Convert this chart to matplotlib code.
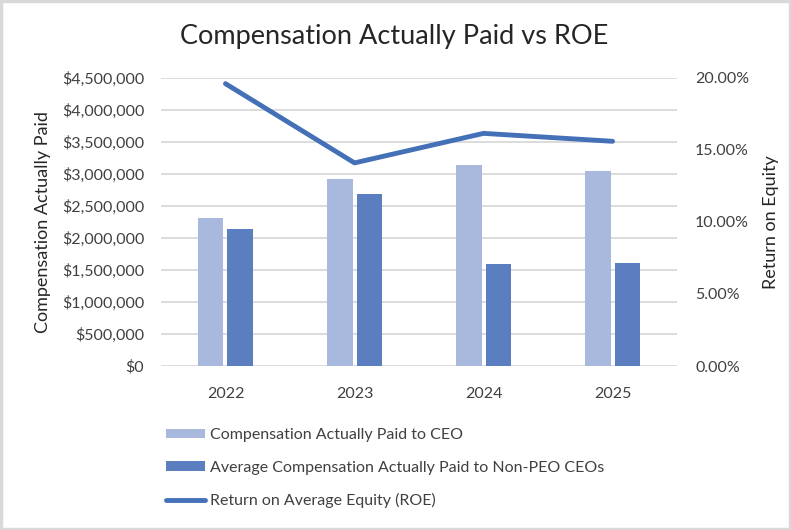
import matplotlib
matplotlib.use("Agg")
import matplotlib.pyplot as plt
from matplotlib.patches import Rectangle
from matplotlib.ticker import FuncFormatter
import numpy as np

plt.rcParams['font.family'] = ['Lato', 'DejaVu Sans']

# data
years = ['2022', '2023', '2024', '2025']
ceo_cap = [2310000, 2920000, 3135000, 3050000]
non_peo_cap = [2135000, 2680000, 1595000, 1610000]
roe = [19.6, 14.1, 16.15, 15.6]

labels = ['Compensation Actually Paid to CEO',
          'Average Compensation Actually Paid to Non-PEO CEOs',
          'Return on Average Equity (ROE)']

c_light = '#A9B8DD'
c_dark = '#5A7EC0'
c_line = '#4470B8'
txt = '#404040'

fig = plt.figure(figsize=(7.91, 5.30), dpi=100)
fig.patches.append(Rectangle((0.0015, 0.002), 0.997, 0.996, transform=fig.transFigure,
                             fill=False, edgecolor='#D9D9D9', linewidth=2.5))

ax = fig.add_axes([0.2035, 0.3094, 0.856 - 0.2035, 0.853 - 0.3094])
x = np.arange(len(years))
w = 0.195
b1 = ax.bar(x - 0.113, ceo_cap, w, color=c_light, label=labels[0], zorder=2)
b2 = ax.bar(x + 0.113, non_peo_cap, w, color=c_dark, label=labels[1], zorder=2)
ax.set_ylim(0, 4500000)
ax.set_xlim(-0.5, 3.5)
ax.set_yticks(np.arange(0, 4500001, 500000))
ax.yaxis.set_major_formatter(FuncFormatter(lambda v, p: '${:,.0f}'.format(v)))
ax.set_xticks(x)
ax.set_xticklabels(years)
ax.grid(axis='y', color='#D9D9D9', linewidth=1.3, zorder=0)
ax.set_axisbelow(True)
for s in ax.spines.values():
    s.set_visible(False)
ax.tick_params(length=0, labelsize=11.5, colors=txt, pad=12)
ax.tick_params(axis='x', pad=15)
ax.set_ylabel('Compensation Actually Paid', fontsize=13, color='#262626', labelpad=8)

ax2 = ax.twinx()
ln, = ax2.plot(x, roe, color=c_line, linewidth=3.5, label=labels[2],
               solid_capstyle='round', zorder=3)
ax2.set_ylim(0, 20)
ax2.set_yticks([0, 5, 10, 15, 20])
ax2.yaxis.set_major_formatter(FuncFormatter(lambda v, p: '{:.2f}%'.format(v)))
for s in ax2.spines.values():
    s.set_visible(False)
ax2.tick_params(length=0, labelsize=11.5, colors=txt, pad=13)
ax2.set_ylabel('Return on Equity', fontsize=13, color='#262626', labelpad=10)

fig.suptitle('Compensation Actually Paid vs ROE', fontsize=19.5, color='#262626',
             x=0.498, y=0.955)

fig.legend(handles=[b1, b2, ln], labels=labels, loc='upper left',
           bbox_to_anchor=(0.2023, 0.204), frameon=False, fontsize=11.5,
           handlelength=2.4, handleheight=0.55, handletextpad=0.3,
           labelspacing=1.15, labelcolor=txt, borderaxespad=0)

fig.savefig('out.png', dpi=100)
